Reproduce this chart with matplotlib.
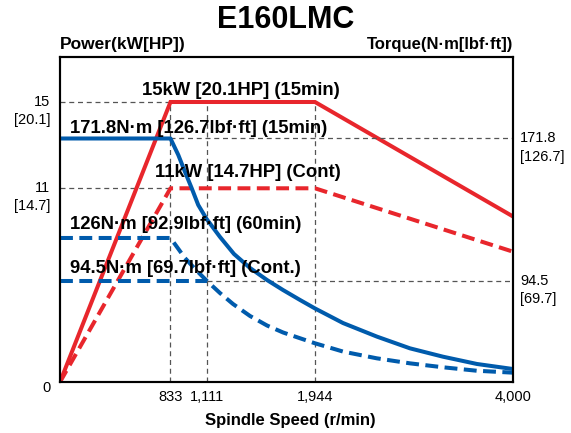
import numpy as np
import matplotlib
matplotlib.use("Agg")
import matplotlib.pyplot as plt

plt.rcParams["font.family"] = ["Liberation Sans", "DejaVu Sans"]

# ---- data ----
speed_ticks = [833, 1111, 1944, 4000]
speed_tick_labels = ["833", "1,111", "1,944", "4,000"]

power_ticks = [15, 11]
power_tick_hp = ["[20.1]", "[14.7]"]
torque_ticks = [171.8, 94.5]
torque_tick_lbf = ["[126.7]", "[69.7]"]

# power (kW)
speed_power = [0, 833, 1944, 4000]
power_15min = [0, 15, 15, 9.4]
power_cont = [0, 11, 11, 7.4]

# torque (N·m)
speed_torque_15min = [0, 833, 893, 944, 996, 1046, 1111, 1213, 1321, 1444,
                      1575, 1698, 1829, 1944, 2235, 2588, 2930, 3273, 3626, 4000]
torque_15min = [171.8, 171.8, 164.2, 156.5, 148.9, 141.2, 134.7, 126.5, 114.2, 103.9,
                95.0, 85.8, 76.5, 68.6, 55.0, 42.3, 31.4, 23.6, 16.8, 12.1]
speed_torque_60min = [0, 833, 944, 1029, 1111, 1213, 1313, 1444, 1575, 1698, 1829,
                      1944, 2238, 2585, 2930, 3276, 3623, 4000]
torque_60min = [126, 126, 111.2, 102.4, 94.5, 83.0, 72.8, 61.6, 52.7, 46.2, 40.8,
                36.1, 28.3, 22.1, 17.4, 13.7, 10.5, 8.7]
speed_torque_cont = [0, 1111]
torque_cont = [94.5, 94.5]

# chart's own (non-linear) axis breakpoints: value -> fraction of axis
speed_nodes = ([0, 833, 1111, 1944, 4000], [0, 0.2439, 0.3238, 0.5629, 1.0])
power_nodes = ([0, 11, 15, 17.09], [0, 0.596, 0.8615, 1.0])
torque_nodes = ([0, 94.5, 126, 171.8, 209.3], [0, 0.3117, 0.4431, 0.7492, 1.0])

RED = "#E8262C"
BLUE = "#005BAC"
GRID = "#555555"


def piecewise(nodes):
    v, f = np.asarray(nodes[0], float), np.asarray(nodes[1], float)
    # extend linearly on both ends so the scale stays invertible
    lo_s = (f[1] - f[0]) / (v[1] - v[0])
    hi_s = (f[-1] - f[-2]) / (v[-1] - v[-2])
    span = v[-1] - v[0]
    v = np.concatenate([[v[0] - span], v, [v[-1] + span]])
    f = np.concatenate([[f[0] - span * lo_s], f, [f[-1] + span * hi_s]])
    return (lambda x: np.interp(x, v, f)), (lambda y: np.interp(y, f, v))


fig = plt.figure(figsize=(5.71, 4.33), dpi=100)
ax = fig.add_axes([0.1051, 0.1178, 0.7933, 0.7506])
ax.set_xscale("function", functions=piecewise(speed_nodes))
ax.set_yscale("function", functions=piecewise(power_nodes))
ax.set_xlim(0, 4000)
ax.set_ylim(0, power_nodes[0][-1])

ax2 = ax.twinx()
ax2.set_yscale("function", functions=piecewise(torque_nodes))
ax2.set_ylim(0, torque_nodes[0][-1])

gkw = dict(color=GRID, lw=0.9, linestyles=(0, (4, 3)), zorder=1)
ax.vlines(speed_ticks[:3], 0, power_ticks[0], **gkw)
ax.hlines(power_ticks, 0, 833, **gkw)
ax2.hlines(torque_ticks[0], 833, 4000, **gkw)
ax2.hlines(torque_ticks[1], 1111, 4000, **gkw)

lw = 2.9
dash = (0, (3.2, 1.6))
ax.plot(speed_power, power_15min, color=RED, lw=lw, solid_joinstyle="miter")
ax.plot(speed_power, power_cont, color=RED, lw=lw, linestyle=dash)
ax2.plot(speed_torque_15min, torque_15min, color=BLUE, lw=lw)
ax2.plot(speed_torque_60min, torque_60min, color=BLUE, lw=lw, linestyle=dash)
ax2.plot(speed_torque_cont, torque_cont, color=BLUE, lw=lw, linestyle=dash)

for a in (ax, ax2):
    a.set_yticks([])
    a.tick_params(length=0)
    for s in a.spines.values():
        s.set_linewidth(1.5)
        s.set_color("black")

ax.set_xticks(speed_ticks)
ax.set_xticklabels(speed_tick_labels, fontsize=10.5)
ax.tick_params(axis="x", pad=6)

# y-axis tick labels (value + bracketed imperial value)
for v, hp in zip(power_ticks, power_tick_hp):
    ax.annotate(str(v), (0, v), xycoords=ax.get_yaxis_transform(), xytext=(-7, 0),
                textcoords="offset points", ha="right", va="center", fontsize=10.5)
    ax.annotate(hp, (0, v), xycoords=ax.get_yaxis_transform(), xytext=(-7, -13),
                textcoords="offset points", ha="right", va="center", fontsize=10.5)
for v, lbf in zip(torque_ticks, torque_tick_lbf):
    ax2.annotate(str(v), (1, v), xycoords=ax2.get_yaxis_transform(), xytext=(5, 0),
                 textcoords="offset points", ha="left", va="center", fontsize=10.5)
    ax2.annotate(lbf, (1, v), xycoords=ax2.get_yaxis_transform(), xytext=(5, -13),
                 textcoords="offset points", ha="left", va="center", fontsize=10.5)
ax.annotate("0", (0, 0), xycoords="axes fraction", xytext=(-7, -4),
            textcoords="offset points", ha="right", va="center", fontsize=10.5)

lab = dict(fontsize=13.3, fontweight="bold", transform=ax2.transAxes, va="baseline")
ax2.text(0.3996, 0.883, "15kW [20.1HP] (15min)", ha="center", **lab)
ax2.text(0.022, 0.766, "171.8N·m [126.7lbf·ft] (15min)", ha="left", **lab)
ax2.text(0.2097, 0.631, "11kW [14.7HP] (Cont)", ha="left", **lab)
ax2.text(0.022, 0.471, "126N·m [92.9lbf·ft] (60min)", ha="left", **lab)
ax2.text(0.022, 0.335, "94.5N·m [69.7lbf·ft] (Cont.)", ha="left", **lab)

fig.text(0.5, 0.953, "E160LMC", ha="center", va="center", fontsize=22, fontweight="bold")
fig.text(0.1051, 0.898, "Power(kW[HP])", ha="left", va="center", fontsize=12.5, fontweight="bold")
fig.text(0.8984, 0.898, "Torque(N·m[lbf·ft])", ha="right", va="center", fontsize=12, fontweight="bold")
fig.text(0.508, 0.028, "Spindle Speed (r/min)", ha="center", va="center", fontsize=12, fontweight="bold")

fig.savefig("out.png", dpi=100)
